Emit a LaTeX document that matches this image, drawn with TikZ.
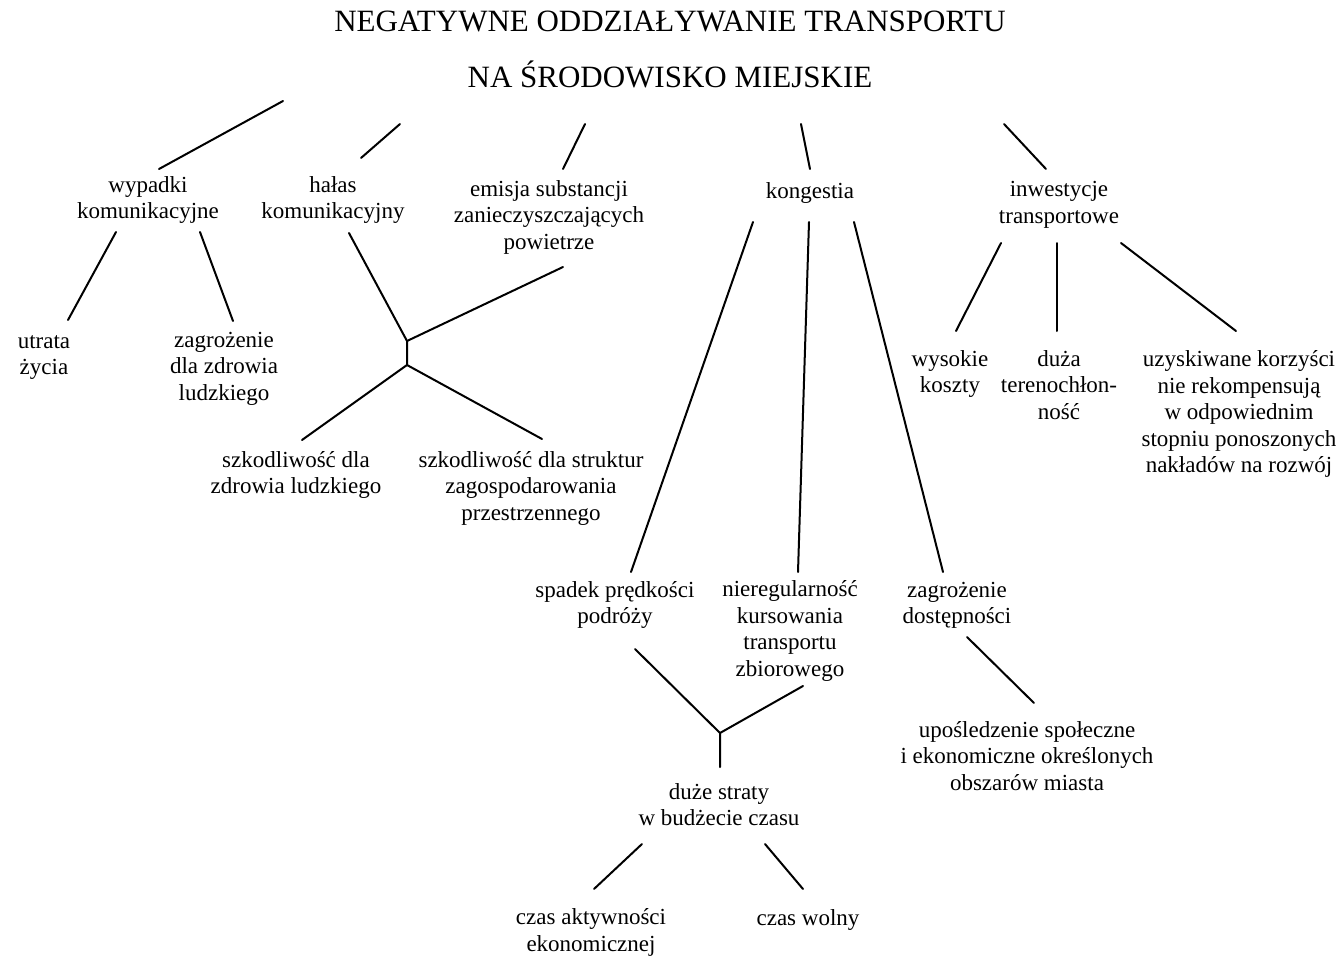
\documentclass[tikz,border=0pt]{standalone}
\usepackage{fontspec}
\setmainfont{Liberation Serif}
\begin{document}
\begin{tikzpicture}[x=1pt,y=-1pt,
  % labels are placed by the baseline of their last line
  lbl/.style={align=center, anchor=base, inner sep=0pt,
              font=\fontsize{23}{26.5}\selectfont},
  link/.style={line width=2pt, line cap=round}]
\useasboundingbox (0,0) rectangle (1339,956);

% heading
\node[align=center, anchor=base, inner sep=0pt,
      font=\fontsize{31}{56}\selectfont] (title) at (670,87)
  {NEGATYWNE ODDZIAŁYWANIE TRANSPORTU\\NA ŚRODOWISKO MIEJSKIE};

% first level
\node[lbl] (wyp) at (148,218.5) {wypadki\\komunikacyjne};
\node[lbl] (hal) at (333,218.5) {hałas\\komunikacyjny};
\node[lbl] (emi) at (549,249) {emisja substancji\\zanieczyszczających\\powietrze};
\node[lbl] (kon) at (810,198) {kongestia};
\node[lbl] (inw) at (1059,223) {inwestycje\\transportowe};

% consequences
\node[lbl] (utr) at (44,374.5) {utrata\\życia};
\node[lbl] (zag) at (224,400) {zagrożenie\\dla zdrowia\\ludzkiego};
\node[lbl] (szz) at (296,493.5) {szkodliwość dla\\zdrowia ludzkiego};
\node[lbl] (szs) at (531,520) {szkodliwość dla struktur\\zagospodarowania\\przestrzennego};
\node[lbl] (wys) at (950,392.5) {wysokie\\koszty};
\node[lbl] (duz) at (1059,419) {duża\\terenochłon-\\ność};
\node[lbl] (uzy) at (1239,472.5) {uzyskiwane korzyści\\nie rekompensują\\w odpowiednim\\stopniu ponoszonych\\nakładów na rozwój};
\node[lbl] (spa) at (615,623.5) {spadek prędkości\\podróży};
\node[lbl] (nie) at (790,676) {nieregularność\\kursowania\\transportu\\zbiorowego};
\node[lbl] (zad) at (957,623.5) {zagrożenie\\dostępności};
\node[lbl] (upo) at (1027,790) {upośledzenie społeczne\\i ekonomiczne określonych\\obszarów miasta};
\node[lbl] (dst) at (719,825.5) {duże straty\\w budżecie czasu};
\node[lbl] (cza) at (591,951) {czas aktywności\\ekonomicznej};
\node[lbl] (czw) at (808,925) {czas wolny};

% connector ends
\coordinate (t-wyp) at (283,101);  \coordinate (wyp-t) at (159,169);
\coordinate (t-hal) at (400,124);  \coordinate (hal-t) at (361,158);
\coordinate (t-emi) at (585,124);  \coordinate (emi-t) at (563,169);
\coordinate (t-kon) at (801,124);  \coordinate (kon-t) at (810,169);
\coordinate (t-inw) at (1004,124); \coordinate (inw-t) at (1046,169);

\coordinate (wyp-utr) at (116,232); \coordinate (utr-t) at (68,320);
\coordinate (wyp-zag) at (200,232); \coordinate (zag-t) at (233,321);

\coordinate (hal-b) at (349,233);
\coordinate (emi-b) at (563,267);
\coordinate (j1) at (407,341);
\coordinate (j2) at (407,365);
\coordinate (szz-t) at (302,440);
\coordinate (szs-t) at (542,439);

\coordinate (kon-spa) at (753,222); \coordinate (spa-t) at (631,572);
\coordinate (kon-nie) at (809,222); \coordinate (nie-t) at (798,572);
\coordinate (kon-zad) at (854,222); \coordinate (zad-t) at (943,572);

\coordinate (inw-wys) at (1001,243); \coordinate (wys-t) at (956,331);
\coordinate (inw-duz) at (1057,243); \coordinate (duz-t) at (1057,331);
\coordinate (inw-uzy) at (1121,243); \coordinate (uzy-t) at (1236,331);

\coordinate (spa-b) at (635,649);
\coordinate (nie-b) at (803,686);
\coordinate (j3) at (720,733);
\coordinate (dst-t) at (720,767);

\coordinate (dst-cza) at (642,844); \coordinate (cza-t) at (594,889);
\coordinate (dst-czw) at (765,844); \coordinate (czw-t) at (803,889);

\coordinate (zad-b) at (967,637); \coordinate (upo-t) at (1034,703);

% connectors
\draw[link] (t-wyp) -- (wyp-t);
\draw[link] (t-hal) -- (hal-t);
\draw[link] (t-emi) -- (emi-t);
\draw[link] (t-kon) -- (kon-t);
\draw[link] (t-inw) -- (inw-t);

\draw[link] (wyp-utr) -- (utr-t);
\draw[link] (wyp-zag) -- (zag-t);

\draw[link] (hal-b) -- (j1) -- (j2);
\draw[link] (emi-b) -- (j1);
\draw[link] (j2) -- (szz-t);
\draw[link] (j2) -- (szs-t);

\draw[link] (kon-spa) -- (spa-t);
\draw[link] (kon-nie) -- (nie-t);
\draw[link] (kon-zad) -- (zad-t);

\draw[link] (inw-wys) -- (wys-t);
\draw[link] (inw-duz) -- (duz-t);
\draw[link] (inw-uzy) -- (uzy-t);

\draw[link] (spa-b) -- (j3);
\draw[link] (nie-b) -- (j3) -- (dst-t);

\draw[link] (dst-cza) -- (cza-t);
\draw[link] (dst-czw) -- (czw-t);

\draw[link] (zad-b) -- (upo-t);
\end{tikzpicture}
\end{document}
